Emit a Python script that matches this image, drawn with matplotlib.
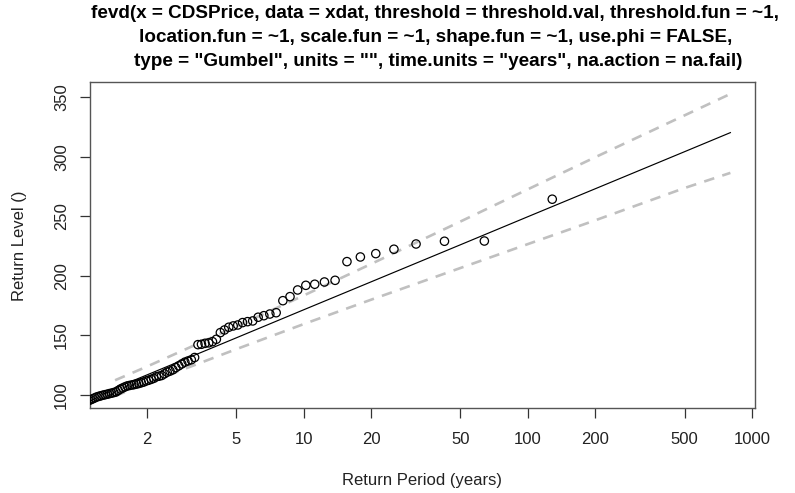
import numpy as np
import matplotlib
matplotlib.use("Agg")
import matplotlib.pyplot as plt

plt.rcParams['font.family'] = ['Liberation Sans', 'DejaVu Sans']

# Sorted annual maxima (largest first) that fall inside the plotted period range
levels = [264.4, 229.3, 229.1, 226.8, 222.4, 218.7, 215.9, 212.0, 196.3, 194.9,
          193.0, 192.1, 188.2, 182.6, 179.2, 169.1, 168.0, 166.6, 165.3, 162.2,
          161.6, 160.8, 158.8, 158.0, 156.9, 154.6, 152.4, 146.8, 144.8, 143.8,
          143.4, 142.6, 142.3, 131.5, 129.6, 128.6, 127.6, 126.1, 124.5, 123.0,
          121.2, 120.1, 119.2, 117.8, 116.4, 115.8, 115.3, 114.0, 113.2, 112.4,
          111.8, 110.9, 110.3, 109.7, 109.2, 108.8, 108.4, 108.0, 107.6, 106.8,
          105.9, 105.0, 103.8, 102.6, 102.1, 101.6, 101.2, 100.7, 100.3, 99.9,
          99.4, 98.9, 98.4, 97.6, 96.8, 96.0, 95.4, 95.0]
n_years = 128

# Fitted return levels and 95% confidence bounds
rperiods = [1.445, 2, 5, 10, 20, 50, 100, 200, 500, 800]
rl_fit = [105.8, 116.8, 147.9, 171.5, 195.0, 226.1, 249.7, 273.2, 304.3, 320.3]
rl_upper = [112.4, 123.8, 157.4, 183.5, 210.0, 245.6, 272.7, 299.7, 334.8, 352.8]
rl_lower = [99.2, 109.8, 138.4, 159.5, 180.0, 206.6, 226.7, 246.7, 273.8, 286.5]

xticks = [2, 5, 10, 20, 50, 100, 200, 500, 1000]
xticklabels = ["2", "5", "10", "20", "50", "100", "200", "500", "1000"]
yticks = [100, 150, 200, 250, 300, 350]

title_lines = [
    'fevd(x = CDSPrice, data = xdat, threshold = threshold.val, threshold.fun = ~1, ',
    'location.fun = ~1, scale.fun = ~1, shape.fun = ~1, use.phi = FALSE, ',
    'type = "Gumbel", units = "", time.units = "years", na.action = na.fail)',
]

# Empirical return periods from plotting positions
rank = np.arange(1, len(levels) + 1)
emp_periods = -1.0 / np.log(1.0 - rank / (n_years + 1.0))

W, H = 795, 493
fig = plt.figure(figsize=(W / 100, H / 100), dpi=100)
ax = fig.add_axes([90 / W, 1 - 408 / H, (755 - 90) / W, (408 - 82) / H])

ax.plot(rperiods, rl_upper, color='#c0c0c0', lw=1.9, dashes=(4, 3.2))
ax.plot(rperiods, rl_lower, color='#c0c0c0', lw=1.9, dashes=(4, 3.2))
ax.plot(rperiods, rl_fit, color='black', lw=0.85)
ax.scatter(emp_periods, levels, s=36, facecolors='none', edgecolors='black',
           linewidths=0.9, zorder=3)

ax.set_xscale('log')
ax.set_xlim(1.117, 1030)
ax.set_ylim(89.1, 362.8)
ax.set_xticks(xticks)
ax.set_xticklabels(xticklabels)
ax.xaxis.set_minor_locator(matplotlib.ticker.NullLocator())
ax.set_yticks(yticks)
ax.set_yticklabels([str(v) for v in yticks], rotation=90, va='center')
ax.tick_params(axis='both', direction='out', length=7, width=0.9,
               color='#333333', labelsize=12, labelcolor='#222222')
ax.tick_params(axis='x', pad=10)
ax.tick_params(axis='y', pad=8)
for sp in ax.spines.values():
    sp.set_color('#555555')
    sp.set_linewidth(1.0)

fig.text(422 / W, 1 - 481 / H, 'Return Period (years)', ha='center', va='center',
         fontsize=12, color='#222222')
fig.text(20 / W, 1 - 246 / H, 'Return Level ()', ha='center', va='center',
         rotation=90, fontsize=12, color='#222222')

for i, line in enumerate(title_lines):
    fig.text(438 / W, 1 - (13 + 24 * i) / H, line, ha='center', va='center',
             fontsize=13.6, fontweight='bold', color='black')

fig.savefig('out.png', dpi=100)
